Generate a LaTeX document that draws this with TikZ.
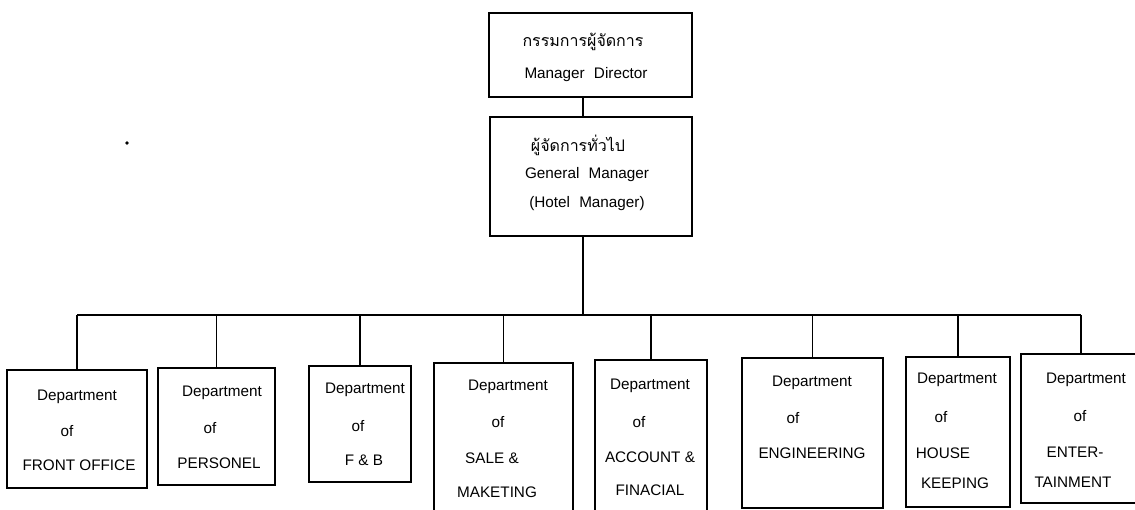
\documentclass[tikz,border=0pt]{standalone}
\usepackage{fontspec}
\setmainfont{Liberation Sans}
\newfontfamily\thaifont[Script=Thai]{Loma}
\usetikzlibrary{positioning}
\tikzstyle{post}=[draw,line width=0.9pt,inner sep=0pt]
\tikzstyle{lbl}=[inner sep=0pt,font=\fontsize{8.7}{10}\selectfont]
\tikzstyle{thai}=[lbl,font=\thaifont\fontsize{9.1}{11}\selectfont]
\tikzstyle{link}=[line width=0.9pt]

\begin{document}
\begin{tikzpicture}[x=0.02cm,y=-0.02cm]
  \useasboundingbox (0,0) rectangle (1135,510);
  % director and general manager
  \node[post,minimum width=4.06cm,minimum height=1.68cm] (md) at (590.5,55) {};
  \node[post,minimum width=4.04cm,minimum height=2.38cm] (gm) at (591,176.5) {};
  \node[thai] (md1) at (583,42) {กรรมการผู้จัดการ};
  \node[lbl] (md2) at (586,75) {Manager\hspace{0.6em}Director};
  \node[thai] (gm1) at (578,145) {ผู้จัดการทั่วไป};
  \node[lbl] (gm2) at (587,175) {General\hspace{0.6em}Manager};
  \node[lbl] (gm3) at (587,204) {(Hotel\hspace{0.6em}Manager)};
  % departments
  \foreach \n/\x/\y/\w/\h in {1/77/429/2.8/2.36, 2/216.5/426.5/2.34/2.34,
      3/360/424/2.04/2.32, 4/503.5/441.5/2.78/3.14, 5/651/440/2.24/3.2,
      6/812.5/433/2.82/3.0, 7/958/432/2.08/3.0, 8/1081/428.5/2.4/2.98}
    \node[post,minimum width=\w cm,minimum height=\h cm] (d\n) at (\x,\y) {};
  \foreach \x/\y/\t [count=\k] in {77/397/Department, 67/431/of, 79/465/FRONT OFFICE,
      222/393/Department, 210/428/of, 219/463/PERSONEL,
      365/390/Department, 358/426/of, 364/460/F \& B,
      508/387/Department, 498/422/of, 492/458/SALE \&, 497/492/MAKETING,
      650/386/Department, 639/422/of, 650/457/ACCOUNT \&, 650/490/FINACIAL,
      812/383/Department, 793/418/of, 812/453/ENGINEERING,
      957/380/Department, 941/417/of, 943/453/HOUSE, 955/483/KEEPING,
      1086/380/Department, 1080/416/of, 1075/452/ENTER-, 1073/482/TAINMENT}
    \node[lbl] (t\k) at (\x,\y) {\t};
  % lines
  \coordinate (bus) at (583,315);
  \draw[link] (md.south -| bus) -- (gm.north -| bus);
  \draw[link] (gm.south -| bus) -- (bus);
  \draw[link] (d1.north |- bus) -- (d8.north |- bus);
  \foreach \n in {1,...,8}
    \draw[link] (d\n.north) -- (d\n.north |- bus);
  \fill (127,143) circle (1.8);
\end{tikzpicture}
\end{document}
